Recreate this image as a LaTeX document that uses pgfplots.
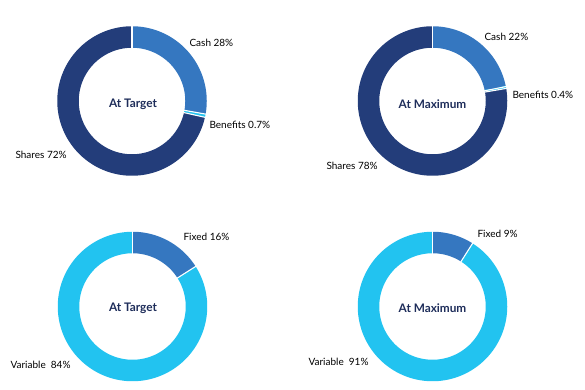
\documentclass[border=0pt]{standalone}
\usepackage{pgfplots}
\pgfplotsset{compat=1.18}
\usepackage{fontspec}
\setmainfont{Lato}
\definecolor{navy}{HTML}{233D7A}
\definecolor{midblue}{HTML}{3577C0}
\definecolor{cyanb}{HTML}{22C3F0}
\definecolor{txt}{HTML}{1E2D5A}
\tikzset{ctr/.style={font=\bfseries\fontsize{11.8}{13}\selectfont, text=txt}}
% slice: cx, cy, start, value, total, colour
\newcommand{\slice}[6]{%
  \addplot[draw=#6, line width=21.5pt, line cap=butt, line join=round, domain=0:1, samples=120, variable=\t]
    ({#1 + 64*cos(90 - 360*(#3 + \t*#4)/#5)}, {#2 + 64*sin(90 - 360*(#3 + \t*#4)/#5)});
}
% separator at cumulative value: cx, cy, cum, total
\newcommand{\sep}[4]{%
  \addplot[draw=white, line width=1.1pt, domain=52.5:75.5, samples=2, variable=\r]
    ({#1 + \r*cos(90 - 360*#3/#4)}, {#2 + \r*sin(90 - 360*#3/#4)});
}
\begin{document}
\begin{tikzpicture}
\useasboundingbox (0,0) rectangle (585pt,389pt);
\begin{axis}[at={(0,0)}, anchor=south west, scale only axis, width=585pt, height=389pt,
  xmin=0, xmax=585, ymin=0, ymax=389, hide axis, clip=false,
  every node/.style={font=\fontsize{9.5}{11}\selectfont, text=txt}]
% Top-left: At Target (Cash 28, Benefits 0.7, Shares 72)
\slice{132}{288}{0}{28}{100.7}{midblue}
\slice{132}{288}{28}{0.7}{100.7}{cyanb}
\slice{132}{288}{28.7}{72}{100.7}{navy}
\sep{132}{288}{0}{100.7}
\sep{132}{288}{28}{100.7}
\sep{132}{288}{28.7}{100.7}
% Top-right: At Maximum (Cash 22, Benefits 0.4, Shares 78)
\slice{432.5}{288}{0}{22}{100.4}{midblue}
\slice{432.5}{288}{22}{0.4}{100.4}{cyanb}
\slice{432.5}{288}{22.4}{78}{100.4}{navy}
\sep{432.5}{288}{0}{100.4}
\sep{432.5}{288}{22}{100.4}
\sep{432.5}{288}{22.4}{100.4}
% Bottom-left: At Target (Fixed 16, Variable 84)
\slice{132.5}{82.5}{0}{16}{100}{midblue}
\slice{132.5}{82.5}{16}{84}{100}{cyanb}
\sep{132.5}{82.5}{0}{100}
\sep{132.5}{82.5}{16}{100}
% Bottom-right: At Maximum (Fixed 9, Variable 91)
\slice{432.5}{82.5}{0}{9}{100}{midblue}
\slice{432.5}{82.5}{9}{91}{100}{cyanb}
\sep{432.5}{82.5}{0}{100}
\sep{432.5}{82.5}{9}{100}
% labels
\node[ctr] at (axis cs:133,285) {At Target};
\node[ctr] at (axis cs:432.5,285) {At Maximum};
\node[ctr] at (axis cs:133,81) {At Target};
\node[ctr] at (axis cs:432.5,81) {At Maximum};
\node[anchor=west] at (axis cs:186,346) {Cash 28\%};
\node[anchor=west] at (axis cs:206,264) {Benefits 0.7\%};
\node[anchor=west] at (axis cs:12,234) {Shares 72\%};
\node[anchor=west] at (axis cs:481,352) {Cash 22\%};
\node[anchor=west] at (axis cs:509,294) {Benefits 0.4\%};
\node[anchor=west] at (axis cs:323,223) {Shares 78\%};
\node[anchor=west] at (axis cs:180,152) {Fixed 16\%};
\node[anchor=west] at (axis cs:7,24) {Variable\ \ 84\%};
\node[anchor=west] at (axis cs:474,155) {Fixed 9\%};
\node[anchor=west] at (axis cs:305,27) {Variable\ \ 91\%};
\end{axis}
\end{tikzpicture}
\end{document}
